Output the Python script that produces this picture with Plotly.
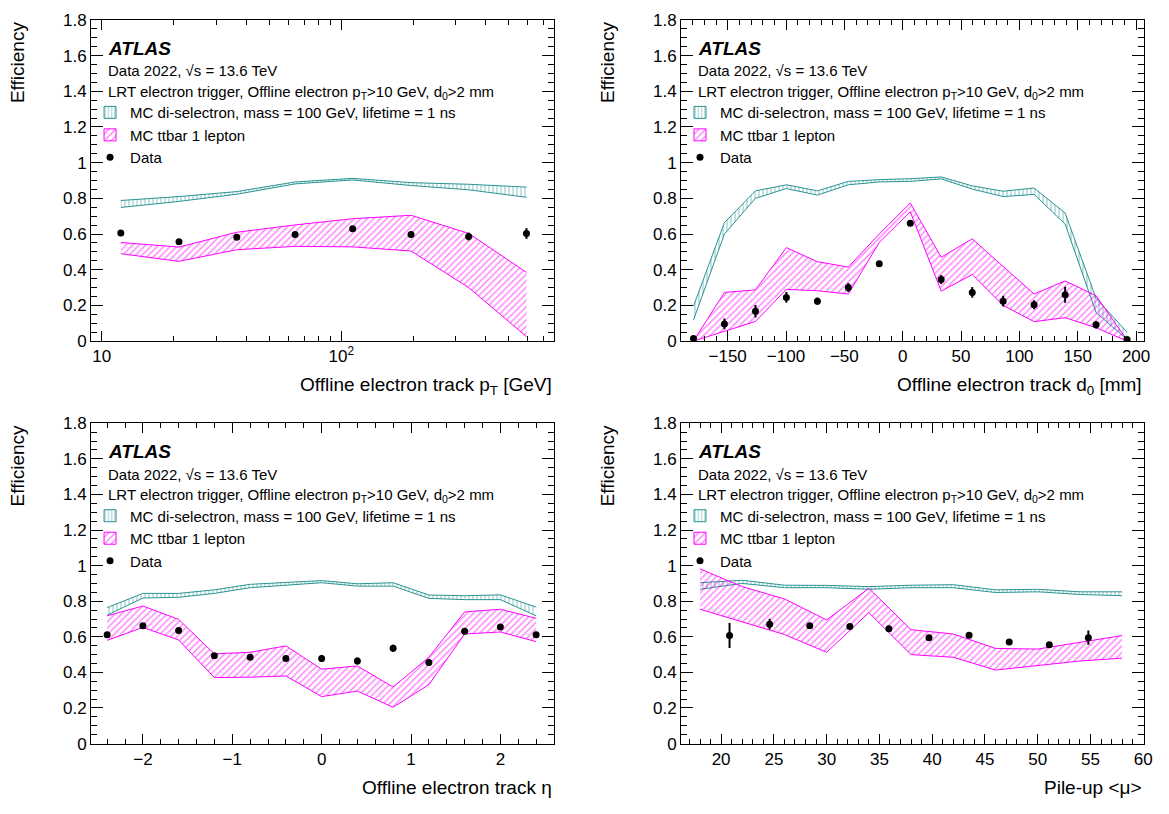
import plotly.graph_objects as go

FONT = "Liberation Sans, Arial, Helvetica, sans-serif"
TEAL = "#2a9393"
MAGENTA = "#ff00ff"

# ---------------- data ----------------
# Panel 1 : offline electron track pT [GeV]
pt_x = [12.0, 21.0, 36.6, 64.1, 111.5, 195.4, 340.0, 593.0]
pt_data = [0.606, 0.557, 0.582, 0.598, 0.629, 0.598, 0.586, 0.603]
pt_err = [0.008, 0.008, 0.01, 0.008, 0.01, 0.018, 0.022, 0.03]
pt_sel_up = [0.788, 0.81, 0.838, 0.892, 0.912, 0.888, 0.879, 0.863]
pt_sel_lo = [0.749, 0.783, 0.823, 0.881, 0.903, 0.872, 0.848, 0.806]
pt_tt_up = [0.553, 0.527, 0.61, 0.651, 0.686, 0.705, 0.604, 0.385]
pt_tt_lo = [0.49, 0.447, 0.512, 0.531, 0.528, 0.505, 0.30, 0.025]

# Panel 2 : offline electron track d0 [mm]
d0_x = [-179.3, -152.8, -126.2, -99.7, -73.1, -46.6, -20.1, 6.5,
        33.0, 59.6, 86.1, 112.6, 139.2, 165.7, 192.3]
d0_data = [0.015, 0.096, 0.167, 0.245, 0.224, 0.30, 0.433, 0.66,
           0.345, 0.273, 0.224, 0.204, 0.26, 0.091, 0.009]
d0_err = [0.005, 0.03, 0.035, 0.03, 0.02, 0.025, 0.008, 0.008,
          0.025, 0.03, 0.03, 0.025, 0.045, 0.02, 0.004]
d0_sel_up = [0.196, 0.664, 0.842, 0.876, 0.842, 0.895, 0.905, 0.91,
             0.92, 0.87, 0.84, 0.858, 0.718, 0.24, 0.05]
d0_sel_lo = [0.118, 0.60, 0.80, 0.855, 0.818, 0.876, 0.892, 0.895,
             0.909, 0.852, 0.81, 0.822, 0.656, 0.16, 0.01]
d0_tt_up = [0.0, 0.273, 0.287, 0.524, 0.445, 0.415, 0.60, 0.774,
            0.47, 0.573, 0.418, 0.264, 0.337, 0.255, 0.005]
d0_tt_lo = [0.0, 0.055, 0.11, 0.29, 0.282, 0.264, 0.553, 0.725,
            0.28, 0.373, 0.2, 0.109, 0.131, 0.075, 0.0]

# Panel 3 : offline electron track eta
eta_x = [-2.4, -2.0, -1.6, -1.2, -0.8, -0.4, 0.0, 0.4, 0.8, 1.2, 1.6, 2.0, 2.4]
eta_data = [0.611, 0.662, 0.636, 0.493, 0.485, 0.478, 0.478, 0.464,
            0.536, 0.455, 0.631, 0.655, 0.611]
eta_err = [0.008, 0.008, 0.01, 0.01, 0.012, 0.015, 0.02, 0.02,
           0.02, 0.01, 0.01, 0.01, 0.008]
eta_sel_up = [0.764, 0.844, 0.844, 0.864, 0.895, 0.904, 0.916, 0.898,
              0.904, 0.835, 0.831, 0.836, 0.767]
eta_sel_lo = [0.722, 0.818, 0.822, 0.844, 0.876, 0.889, 0.904, 0.885,
              0.885, 0.816, 0.809, 0.809, 0.718]
eta_tt_up = [0.718, 0.773, 0.698, 0.504, 0.513, 0.549, 0.418, 0.436,
             0.318, 0.485, 0.74, 0.755, 0.704]
eta_tt_lo = [0.58, 0.653, 0.582, 0.371, 0.373, 0.38, 0.264, 0.295,
             0.204, 0.331, 0.616, 0.627, 0.573]

# Panel 4 : pile-up <mu>
mu_x = [20.8, 24.6, 28.4, 32.2, 35.9, 39.7, 43.5, 47.3, 51.1, 54.8]
mu_data = [0.607, 0.671, 0.662, 0.658, 0.645, 0.595, 0.609, 0.571, 0.556, 0.595]
mu_err = [0.07, 0.03, 0.01, 0.01, 0.01, 0.01, 0.01, 0.008, 0.008, 0.04]
mu_band_x = [18, 22, 26, 30, 34, 38, 42, 46, 50, 54, 58]
mu_sel_up = [0.904, 0.918, 0.89, 0.889, 0.882, 0.89, 0.893, 0.864, 0.867, 0.853, 0.853]
mu_sel_lo = [0.867, 0.90, 0.876, 0.876, 0.867, 0.876, 0.876, 0.849, 0.853, 0.838, 0.831]
mu_tt_up = [0.982, 0.882, 0.813, 0.695, 0.873, 0.64, 0.616, 0.535, 0.531, 0.567, 0.607]
mu_tt_lo = [0.755, 0.685, 0.613, 0.513, 0.736, 0.50, 0.485, 0.413, 0.44, 0.464, 0.48]

# tick labels
y_tick_vals = [0, 0.2, 0.4, 0.6, 0.8, 1.0, 1.2, 1.4, 1.6, 1.8]
y_tick_text = ["0", "0.2", "0.4", "0.6", "0.8", "1", "1.2", "1.4", "1.6", "1.8"]
pt_tick_vals = [10, 100]
pt_tick_text = ["10", "10<sup>2</sup>"]
pt_minor_vals = [9, 20, 30, 40, 50, 60, 70, 80, 90, 200, 300, 400, 500, 600, 700]

x_titles = ["Offline electron track p<sub>T</sub> [GeV]",
            "Offline electron track d<sub>0</sub> [mm]",
            "Offline electron track η",
            "Pile-up &lt;μ&gt;"]
name_sel = "MC di-selectron, mass = 100 GeV, lifetime = 1 ns"
name_tt = "MC ttbar 1 lepton"
name_data = "Data"
txt_atlas = "<b><i>ATLAS</i></b>"
txt_data = "Data 2022, √s = 13.6 TeV"
txt_sel = "LRT electron trigger, Offline electron p<sub>T</sub>&gt;10 GeV, d<sub>0</sub>&gt;2 mm"

# ---------------- layout geometry (pixels of the 1169x814 page) ----------------
PAGE_OFF = 8          # default body margin of the html page (both sides)
W, H = 1169 - 2 * PAGE_OFF, 814 - 2 * PAGE_OFF
panels = [
    (91.7, 558.3, 11.0, 340.0),
    (686.3, 1152.7, 11.0, 340.0),
    (91.7, 558.3, 424.2, 752.3),
    (686.3, 1152.7, 424.2, 752.3),
]
title_gap = [46.5, 46.5, 45.0, 45.0]


def px(x):
    return (x - PAGE_OFF) / W


def py(y):
    return 1 - (y - PAGE_OFF) / H


fig = go.Figure()


def add_band(xs, lo, up, color, shape, size, solidity, xa, ya):
    fig.add_trace(go.Scatter(x=xs, y=lo, mode="lines", line=dict(color=color, width=1),
                             showlegend=False, hoverinfo="skip", xaxis=xa, yaxis=ya))
    fig.add_trace(go.Scatter(x=xs, y=up, mode="lines", line=dict(color=color, width=1),
                             fill="tonexty", fillcolor="rgba(0,0,0,0)",
                             fillpattern=dict(shape=shape, fgcolor=color,
                                              bgcolor="rgba(0,0,0,0)", size=size,
                                              solidity=solidity),
                             showlegend=False, hoverinfo="skip", xaxis=xa, yaxis=ya))


def add_key(name, color, shape, size, xa, ya, leg):
    # legend entry only (hatched box symbol)
    fig.add_trace(go.Bar(x=[None], y=[None], name=name, legend=leg, xaxis=xa, yaxis=ya,
                         marker=dict(color="rgba(0,0,0,0)",
                                     line=dict(color=color, width=1),
                                     pattern=dict(shape=shape, fgcolor=color,
                                                  bgcolor="rgba(0,0,0,0)", size=size,
                                                  solidity=0.3))))


def add_data(xs, ys, err, xa, ya, leg):
    fig.add_trace(go.Scatter(x=xs, y=ys, mode="markers",
                             marker=dict(color="black", size=7),
                             error_y=dict(type="data", array=err, visible=True,
                                          color="black", thickness=2, width=0),
                             name=name_data, legend=leg, xaxis=xa, yaxis=ya))


sets = [
    (pt_x, pt_x, pt_data, pt_err, pt_sel_lo, pt_sel_up, pt_tt_lo, pt_tt_up),
    (d0_x, d0_x, d0_data, d0_err, d0_sel_lo, d0_sel_up, d0_tt_lo, d0_tt_up),
    (eta_x, eta_x, eta_data, eta_err, eta_sel_lo, eta_sel_up, eta_tt_lo, eta_tt_up),
    (mu_band_x, mu_x, mu_data, mu_err, mu_sel_lo, mu_sel_up, mu_tt_lo, mu_tt_up),
]

legends = ["legend", "legend2", "legend3", "legend4"]
for i, (bx, dx, dy, de, slo, sup, tlo, tup) in enumerate(sets):
    xa = "x" if i == 0 else f"x{i+1}"
    ya = "y" if i == 0 else f"y{i+1}"
    leg = legends[i]
    add_band(bx, slo, sup, TEAL, "|", 4, 0.28, xa, ya)
    add_band(bx, tlo, tup, MAGENTA, "/", 4.6, 0.32, xa, ya)
    add_key(name_sel, TEAL, "|", 4, xa, ya, leg)
    add_key(name_tt, MAGENTA, "/", 6, xa, ya, leg)
    add_data(dx, dy, de, xa, ya, leg)

axis_common = dict(showline=True, linecolor="black", linewidth=1, mirror="ticks",
                   ticks="inside", tickcolor="black", tickwidth=1, showgrid=False,
                   zeroline=False, tickfont=dict(family=FONT, size=17, color="black"))

x_specs = [
    dict(type="log", range=[0.955, 2.888], tickmode="array", tickvals=pt_tick_vals,
         ticktext=pt_tick_text,
         minor=dict(tickmode="array", tickvals=pt_minor_vals, ticks="inside", ticklen=5,
                    tickcolor="black", showgrid=False)),
    dict(range=[-190, 206.6], tick0=0, dtick=50,
         minor=dict(tick0=0, dtick=10, ticks="inside", ticklen=5, tickcolor="black", showgrid=False)),
    dict(range=[-2.58, 2.6], tick0=0, dtick=1,
         minor=dict(tick0=0, dtick=0.2, ticks="inside", ticklen=5, tickcolor="black", showgrid=False)),
    dict(range=[16.2, 60.05], tick0=0, dtick=5,
         minor=dict(tick0=0, dtick=1, ticks="inside", ticklen=5, tickcolor="black", showgrid=False)),
]

layout = dict(width=W, height=H, margin=dict(l=0, r=0, t=0, b=0), autosize=False,
              paper_bgcolor="white", plot_bgcolor="white",
              font=dict(family=FONT, color="black"), showlegend=True)

annotations = []
for i, (l, r, t, b) in enumerate(panels):
    sfx = "" if i == 0 else str(i + 1)
    xs = dict(axis_common)
    xs.update(x_specs[i])
    xs.update(domain=[px(l), px(r)], anchor="y" + sfx, ticklen=10)
    ys = dict(axis_common)
    ys.update(domain=[py(b), py(t)], anchor="x" + sfx, range=[0, 1.8],
              tickmode="array", tickvals=y_tick_vals, ticktext=y_tick_text, ticklen=12,
              minor=dict(tick0=0, dtick=0.05, ticks="inside", ticklen=6,
                         tickcolor="black", showgrid=False))
    layout["xaxis" + sfx] = xs
    layout["yaxis" + sfx] = ys

    layout[legends[i]] = dict(x=px(l - 1), xanchor="left", y=py(t + 118), yanchor="middle",
                              bgcolor="rgba(0,0,0,0)", borderwidth=0, traceorder="normal",
                              font=dict(family=FONT, size=15, color="black"),
                              itemwidth=30, tracegroupgap=0)

    tx = px(l + 15.3)
    annotations += [
        dict(x=tx, y=py(t + 29), xref="paper", yref="paper", text=txt_atlas, showarrow=False,
             xanchor="left", yanchor="middle", font=dict(family=FONT, size=19, color="black")),
        dict(x=tx, y=py(t + 52), xref="paper", yref="paper", text=txt_data, showarrow=False,
             xanchor="left", yanchor="middle", font=dict(family=FONT, size=15, color="black")),
        dict(x=tx, y=py(t + 74), xref="paper", yref="paper", text=txt_sel, showarrow=False,
             xanchor="left", yanchor="middle", font=dict(family=FONT, size=15, color="black")),
        dict(x=px(l - 74), y=py(t), xref="paper", yref="paper", text="Efficiency",
             showarrow=False, textangle=-90, xanchor="center", yanchor="top",
             font=dict(family=FONT, size=19, color="black")),
        dict(x=px(r), y=py(b + title_gap[i]), xref="paper", yref="paper", text=x_titles[i],
             showarrow=False, xanchor="right", yanchor="middle",
             font=dict(family=FONT, size=19, color="black")),
    ]

layout["annotations"] = annotations
fig.update_layout(**layout)
fig.write_html("out.html")
